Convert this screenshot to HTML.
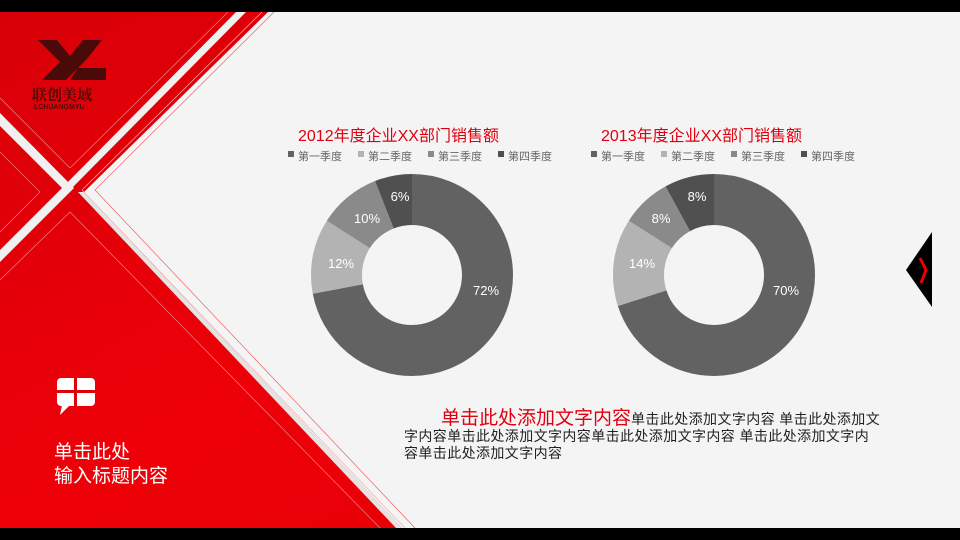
<!DOCTYPE html>
<html><head><meta charset="utf-8"><style>
*{margin:0;padding:0}
body{width:960px;height:540px;position:relative;overflow:hidden;background:#000;font-family:"Liberation Sans","Noto Sans CJK SC",sans-serif}
.a{position:absolute;white-space:nowrap}
.l{position:absolute;top:148px;font-size:11px;color:#666;white-space:nowrap}
</style></head><body>
<svg class="a" style="left:0;top:0" width="960" height="540">
<defs>
<linearGradient id="rg" x1="0" y1="0" x2="1" y2="1"><stop offset="0" stop-color="#d80008"/><stop offset="0.5" stop-color="#ee0008"/><stop offset="1" stop-color="#e00006"/></linearGradient>
</defs>
<rect x="0" y="12" width="960" height="516" fill="url(#rg)"/>
<polygon points="0,113 0,126 62,188 0,250 0,262 68,194 74,188" fill="#f0f0f0"/>
<polygon points="62,188 236,12 246,12 72,188" fill="#f0f0f0"/>
<polygon points="268,12 960,12 960,528 402,528 84,192" fill="#f4f4f4"/>
<polygon points="84,192 402,528 396,528 78,192" fill="#e4e4e4"/>
<polyline points="0,98 70,168 228,12" fill="none" stroke="#f08080" stroke-width="0.7"/>
<polyline points="0,232 40,192 0,152" fill="none" stroke="#f08080" stroke-width="0.7"/>
<polyline points="0,280 70,212 380,528" fill="none" stroke="#f08080" stroke-width="0.7"/>
<polyline points="274,12 95,190 415,528" fill="none" stroke="#f06060" stroke-width="0.7"/>
<polyline points="262,12 82,190 405,528" fill="none" stroke="#f8b0b0" stroke-width="0.7"/>
<polygon points="38,40 57,40 70,56 83,40 102,40 86,60 66,80 42,80 60,62" fill="#4a0a0a"/>
<polygon points="78,68 106,68 106,80 70,80" fill="#4a0a0a"/>
<g transform="translate(412,275) rotate(-90)" fill="none" stroke-width="51">
<circle r="75.5" stroke="#626262" stroke-dasharray="341.55 474.38"/>
<circle r="75.5" stroke="#b3b3b3" stroke-dasharray="56.93 474.38" stroke-dashoffset="-341.55"/>
<circle r="75.5" stroke="#8a8a8a" stroke-dasharray="47.44 474.38" stroke-dashoffset="-398.48"/>
<circle r="75.5" stroke="#505050" stroke-dasharray="28.46 474.38" stroke-dashoffset="-445.92"/>
</g>
<g transform="translate(714,275) rotate(-90)" fill="none" stroke-width="51">
<circle r="75.5" stroke="#626262" stroke-dasharray="332.07 474.38"/>
<circle r="75.5" stroke="#b3b3b3" stroke-dasharray="66.41 474.38" stroke-dashoffset="-332.07"/>
<circle r="75.5" stroke="#8a8a8a" stroke-dasharray="37.95 474.38" stroke-dashoffset="-398.48"/>
<circle r="75.5" stroke="#505050" stroke-dasharray="37.95 474.38" stroke-dashoffset="-436.43"/>
</g>
<g fill="#fff" font-size="13" font-family="Liberation Sans,sans-serif" text-anchor="middle">
<text x="486" y="295">72%</text><text x="341" y="268">12%</text><text x="367" y="223">10%</text><text x="400" y="201">6%</text>
<text x="786" y="295">70%</text><text x="642" y="268">14%</text><text x="661" y="223">8%</text><text x="697" y="201">8%</text>
</g>
<g>
<rect x="288" y="151" width="6" height="6" fill="#626262"/><rect x="358" y="151" width="6" height="6" fill="#b3b3b3"/><rect x="428" y="151" width="6" height="6" fill="#8a8a8a"/><rect x="498" y="151" width="6" height="6" fill="#505050"/>
<rect x="591" y="151" width="6" height="6" fill="#626262"/><rect x="661" y="151" width="6" height="6" fill="#b3b3b3"/><rect x="731" y="151" width="6" height="6" fill="#8a8a8a"/><rect x="801" y="151" width="6" height="6" fill="#505050"/>
</g>
<polygon points="932,232 906,270 932,307" fill="#000"/>
<polyline points="920,258 926,270 921,283" fill="none" stroke="#e00" stroke-width="3"/>
<rect x="57" y="378" width="38" height="28" rx="4" fill="#fff"/>
<polygon points="62,405 70,405 60,415" fill="#fff"/>
<rect x="74" y="378" width="3" height="28" fill="#e00008"/>
<rect x="57" y="390" width="38" height="3" fill="#e00008"/>
</svg>
<div class="a" style="left:32px;top:84px;font-size:15px;font-weight:bold;color:#4a0a0a;font-family:'Noto Serif CJK SC',serif">联创美域</div>
<div class="a" style="left:34px;top:104px;font-size:7px;color:#4a0a0a;font-weight:bold">LCHUANGMYU</div>
<div class="a" style="left:298px;top:122px;font-size:16px;color:#e00010">2012年度企业XX部门销售额</div>
<div class="a" style="left:601px;top:122px;font-size:16px;color:#e00010">2013年度企业XX部门销售额</div>
<div class="l" style="left:298px">第一季度</div><div class="l" style="left:368px">第二季度</div><div class="l" style="left:438px">第三季度</div><div class="l" style="left:508px">第四季度</div>
<div class="l" style="left:601px">第一季度</div><div class="l" style="left:671px">第二季度</div><div class="l" style="left:741px">第三季度</div><div class="l" style="left:811px">第四季度</div>
<div class="a" style="left:441px;top:403px;font-size:14px;letter-spacing:0.4px;color:#222"><span style="font-size:19px;letter-spacing:0;color:#e00010">单击此处添加文字内容</span>单击此处添加文字内容 单击此处添加文</div>
<div class="a" style="left:404px;top:426px;font-size:14px;letter-spacing:0.4px;color:#222">字内容单击此处添加文字内容单击此处添加文字内容 单击此处添加文字内</div>
<div class="a" style="left:404px;top:443px;font-size:14px;letter-spacing:0.4px;color:#222">容单击此处添加文字内容</div>
<div class="a" style="left:54px;top:441px;font-size:19px;color:#fff;line-height:24px">单击此处<br>输入标题内容</div>
</body></html>
